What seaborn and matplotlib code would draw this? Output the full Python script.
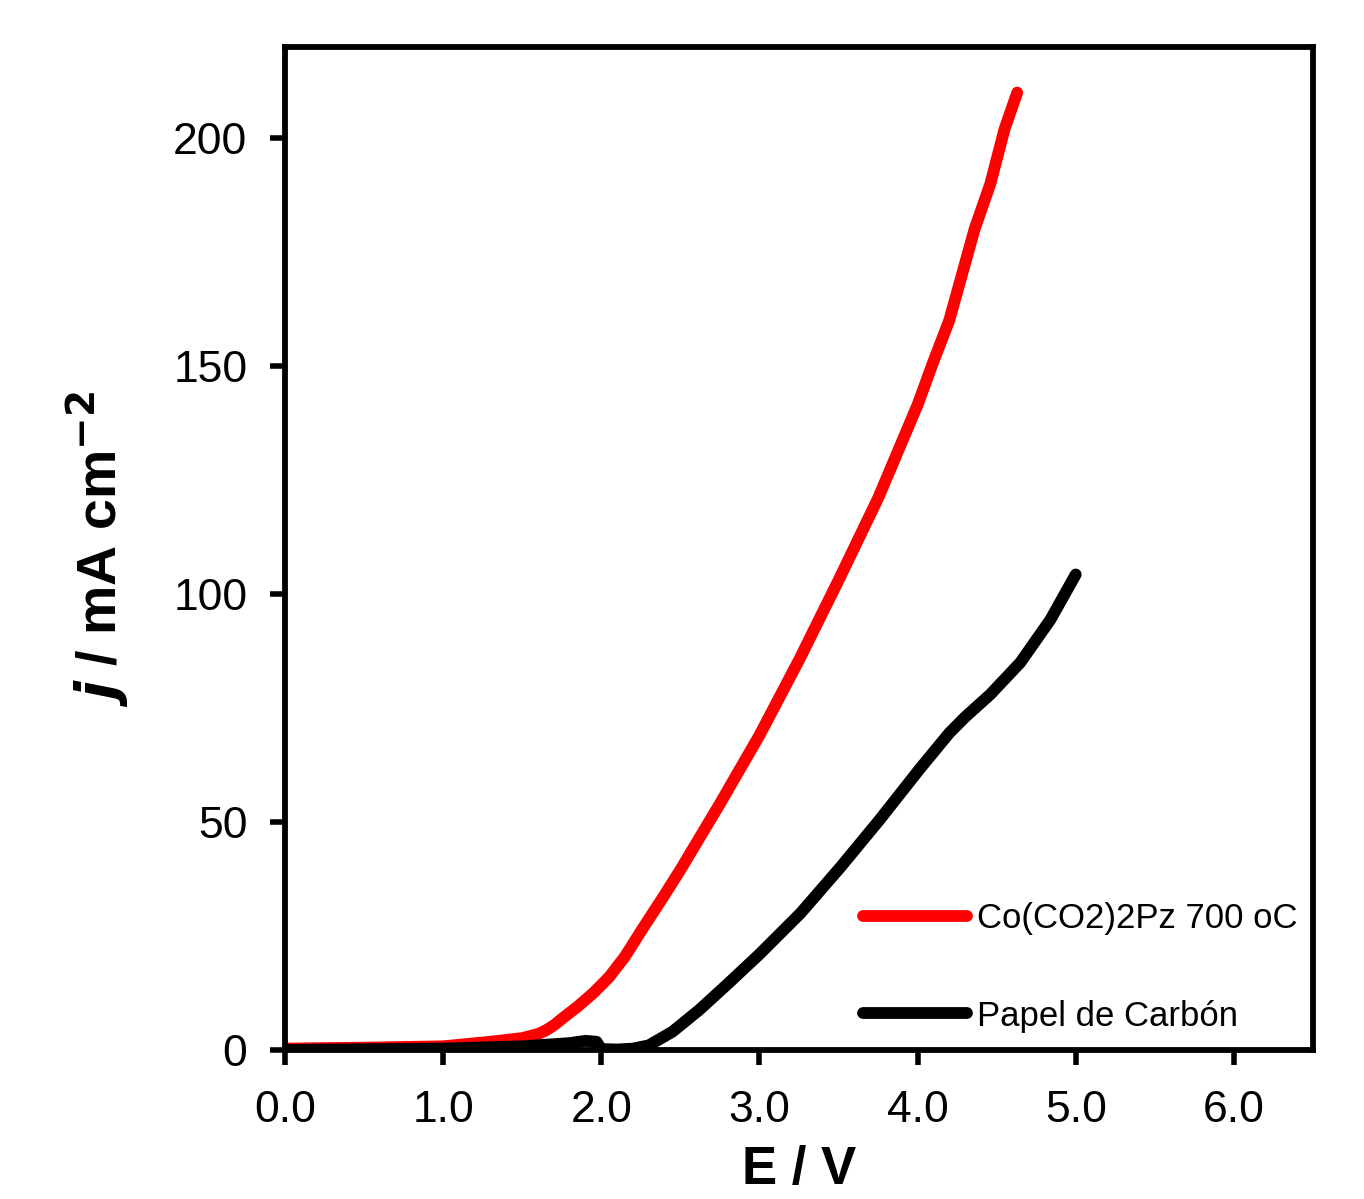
import pandas as pd
import matplotlib
matplotlib.use('Agg')
import matplotlib.pyplot as plt
import seaborn as sns

# Values
labels = ['Co(CO2)2Pz 700 oC', 'Papel de Carbón']

e_co = [0.0, 0.5, 1.0, 1.3, 1.5, 1.6, 1.65, 1.7, 1.75, 1.85, 1.95, 2.05, 2.15, 2.25, 2.4,
        2.5, 2.75, 3.0, 3.25, 3.5, 3.75, 4.0, 4.1, 4.2, 4.28, 4.36, 4.46, 4.55, 4.63]
j_co = [0.3, 0.5, 0.8, 1.8, 2.6, 3.5, 4.3, 5.4, 6.8, 9.5, 12.5, 16.0, 20.5, 26.0, 34.0,
        39.5, 54.0, 69.0, 85.5, 103.0, 121.0, 141.5, 151.0, 160.0, 170.0, 180.0, 190.0, 202.0, 210.0]

e_cp = [0.0, 1.0, 1.5, 1.8, 1.9, 1.97, 2.0, 2.1, 2.2, 2.3, 2.45, 2.62, 2.8, 3.0,
        3.26, 3.51, 3.76, 4.01, 4.2, 4.3, 4.46, 4.65, 4.84, 5.0]
j_cp = [0.0, 0.3, 0.8, 1.5, 2.0, 1.8, 0.2, 0.1, 0.3, 1.0, 4.0, 8.8, 14.5, 21.0,
        30.0, 40.0, 50.5, 61.5, 69.5, 73.0, 78.0, 85.0, 94.4, 104.3]

x_ticks = [0, 1, 2, 3, 4, 5, 6]
y_ticks = [0, 50, 100, 150, 200]

df = pd.concat([
    pd.DataFrame({'E': e_co, 'j': j_co, 'muestra': labels[0]}),
    pd.DataFrame({'E': e_cp, 'j': j_cp, 'muestra': labels[1]}),
])

sns.set_style('ticks')
plt.rcParams['font.family'] = ['Liberation Sans', 'DejaVu Sans']
plt.rcParams['text.color'] = 'black'
plt.rcParams['axes.labelcolor'] = 'black'
plt.rcParams['xtick.color'] = 'black'
plt.rcParams['ytick.color'] = 'black'
plt.rcParams['axes.edgecolor'] = 'black'

fig = plt.figure(figsize=(13.64, 11.99), dpi=100)
ax = fig.add_axes([0.2089, 0.1243, 0.7537, 0.8365])

sns.lineplot(data=df, x='E', y='j', hue='muestra', sort=False,
             palette={labels[0]: '#ff0000', labels[1]: '#000000'},
             linewidth=8.5, ax=ax)
for line in ax.get_lines():
    line.set_solid_capstyle('round')
    line.set_solid_joinstyle('round')

ax.set_xlim(0, 6.5)
ax.set_ylim(0, 220)
ax.set_xticks(x_ticks)
ax.set_xticklabels([f'{t:.1f}' for t in x_ticks])
ax.set_yticks(y_ticks)
ax.tick_params(labelsize=32, length=11, width=4, direction='out')
ax.tick_params(axis='x', pad=18)
ax.tick_params(axis='y', pad=16)
for s in ax.spines.values():
    s.set_linewidth(4.2)
    s.set_visible(True)

ax.set_xlabel('E / V', fontsize=38, fontweight='bold', labelpad=10)
ax.set_ylabel(r'$\mathbfit{j}$ / mA cm$^{\mathbf{-2}}$', fontsize=40, fontweight='bold', labelpad=30)

leg = ax.legend(loc='lower left', bbox_to_anchor=(0.545, 0.0), frameon=False,
                fontsize=25, handlelength=3.0, handletextpad=0.3,
                labelspacing=1.85, borderpad=0)
for line in leg.get_lines():
    line.set_linewidth(8.5)
    line.set_solid_capstyle('round')

fig.savefig('out.png', dpi=100)
